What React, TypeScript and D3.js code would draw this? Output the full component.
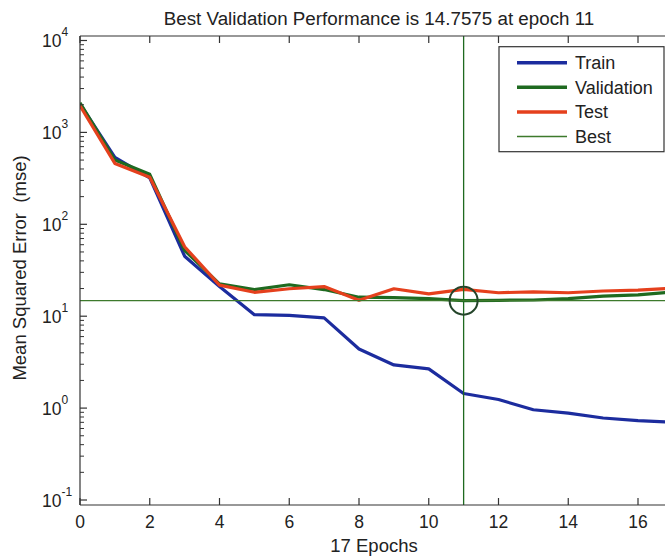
import React from "react";
import * as d3 from "d3";

const epochs = [0, 1, 2, 3, 4, 5, 6, 7, 8, 9, 10, 11, 12, 13, 14, 15, 16, 17];
const trainMse = [2050, 535, 320, 45, 21, 10.4, 10.2, 9.6, 4.4, 2.95, 2.67, 1.44, 1.24, 0.96, 0.88, 0.78, 0.73, 0.7];
const validationMse = [2100, 500, 350, 52, 22.5, 19.5, 22, 19.5, 16.1, 15.9, 15.5, 14.7575, 14.9, 15, 15.5, 16.5, 17.1, 18.3];
const testMse = [1950, 460, 325, 57, 21.8, 18.2, 19.9, 21, 14.9, 19.9, 17.5, 19.6, 18, 18.4, 18, 18.8, 19.2, 20.2];
const bestEpoch = 11;
const bestValue = 14.7575;
const xTicks = [0, 2, 4, 6, 8, 10, 12, 14, 16];
const yDecades = [-1, 0, 1, 2, 3, 4];
const legendLabels = ["Train", "Validation", "Test", "Best"];

const COLORS = {
  train: "#1c2c9e",
  val: "#1f6a20",
  test: "#e5401d",
  best: "#3d7a2c",
  axis: "#333",
};

const FONT = "'Liberation Sans', Arial, Helvetica, sans-serif";

export default function App() {
  const left = 80;
  const top = 36;
  const bottom = 505;
  const right = 672;

  const x = d3.scaleLinear().domain([0, 16]).range([80, 638]);
  const y = d3.scaleLog().domain([0.1, 10000]).range([500, 40.5]);

  const line = d3
    .line<number>()
    .x((_, i) => x(epochs[i]))
    .y((d) => y(d));

  const minorTicks: number[] = [];
  for (let e = -1; e < 4; e++) {
    for (let k = 2; k <= 9; k++) minorTicks.push(k * Math.pow(10, e));
  }

  const legendX = 499;
  const legendY = 46.7;
  const legendItems = [
    { label: legendLabels[0], color: COLORS.train, w: 3.5 },
    { label: legendLabels[1], color: COLORS.val, w: 3.5 },
    { label: legendLabels[2], color: COLORS.test, w: 3.5 },
    { label: legendLabels[3], color: COLORS.best, w: 1.3 },
  ];

  return (
    <svg
      width={665}
      height={557}
      style={{ position: "absolute", left: 0, top: 0, background: "#fff" }}
      fontFamily={FONT}
    >
      <rect x={0} y={0} width={665} height={557} fill="#fff" />
      <defs>
        <clipPath id="plotclip">
          <rect x={left} y={top} width={right - left} height={bottom - top} />
        </clipPath>
      </defs>

      {/* title */}
      <text x={379} y={25} fontSize={18.8} textAnchor="middle" fill="#222">
        Best Validation Performance is 14.7575 at epoch 11
      </text>

      {/* data lines */}
      <g clipPath="url(#plotclip)" fill="none" strokeLinejoin="round">
        <path d={line(trainMse) || ""} stroke={COLORS.train} strokeWidth={3.2} />
        <path d={line(validationMse) || ""} stroke={COLORS.val} strokeWidth={3.2} />
        <path d={line(testMse) || ""} stroke={COLORS.test} strokeWidth={3.2} />
        {/* best lines */}
        <line x1={x(bestEpoch)} x2={x(bestEpoch)} y1={top} y2={bottom} stroke={COLORS.val} strokeWidth={1.3} />
        <line x1={left} x2={right} y1={y(bestValue)} y2={y(bestValue)} stroke={COLORS.best} strokeWidth={1.3} />
        <circle cx={x(bestEpoch)} cy={y(bestValue)} r={14} fill="none" stroke="#24452a" strokeWidth={2} />
      </g>

      {/* frame */}
      <line x1={left} x2={right} y1={top} y2={top} stroke={COLORS.axis} strokeWidth={1.2} />
      <line x1={left} x2={right} y1={bottom} y2={bottom} stroke={COLORS.axis} strokeWidth={1.2} />
      <line x1={left} x2={left} y1={top} y2={bottom} stroke={COLORS.axis} strokeWidth={1.2} />

      {/* x ticks */}
      {xTicks.map((t) => (
        <g key={"xt" + t}>
          <line x1={x(t)} x2={x(t)} y1={bottom} y2={bottom - 7} stroke={COLORS.axis} strokeWidth={1.2} />
          <line x1={x(t)} x2={x(t)} y1={top} y2={top + 7} stroke={COLORS.axis} strokeWidth={1.2} />
          <text x={x(t)} y={528} fontSize={17.5} textAnchor="middle" fill="#222">
            {t}
          </text>
        </g>
      ))}

      {/* y minor ticks */}
      {minorTicks.map((v, i) => (
        <line key={"ym" + i} x1={left} x2={left + 4} y1={y(v)} y2={y(v)} stroke={COLORS.axis} strokeWidth={1} />
      ))}

      {/* y major ticks and labels */}
      {yDecades.map((e) => {
        const yy = y(Math.pow(10, e));
        return (
          <g key={"yd" + e}>
            <line x1={left} x2={left + 7} y1={yy} y2={yy} stroke={COLORS.axis} strokeWidth={1.2} />
            <text x={42} y={yy + 6.5} fontSize={17.5} fill="#222">
              10
              <tspan dy={-11} fontSize={12}>
                {e}
              </tspan>
            </text>
          </g>
        );
      })}

      {/* axis labels */}
      <text x={374} y={552} fontSize={18.5} textAnchor="middle" fill="#222">
        17 Epochs
      </text>
      <text
        transform="translate(26,268) rotate(-90)"
        fontSize={18.5}
        textAnchor="middle"
        fill="#222"
        style={{ whiteSpace: "pre" }}
      >
        {"Mean Squared Error  (mse)"}
      </text>

      {/* legend */}
      <rect x={legendX} y={legendY} width={165} height={105} fill="#fff" stroke="#333" strokeWidth={1.2} />
      {legendItems.map((it, i) => {
        const cy = 62.7 + i * 24.6;
        return (
          <g key={it.label}>
            <line x1={517} x2={567} y1={cy} y2={cy} stroke={it.color} strokeWidth={it.w} />
            <text x={575} y={cy + 6.5} fontSize={18} fill="#222">
              {it.label}
            </text>
          </g>
        );
      })}
    </svg>
  );
}
